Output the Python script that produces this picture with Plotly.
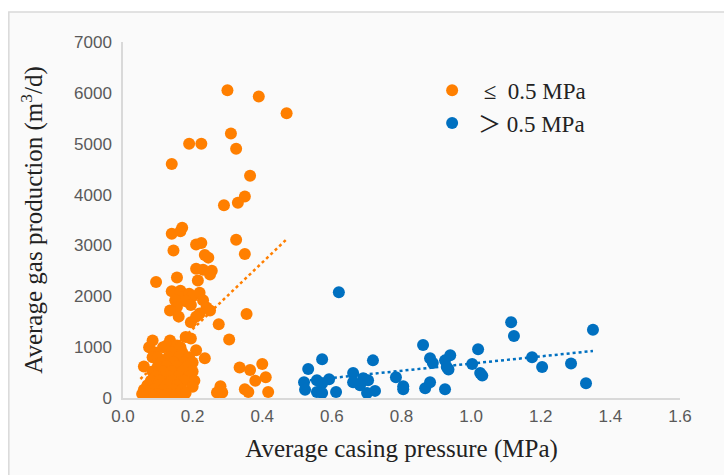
import plotly.graph_objects as go

# ---- data ----
low_x = [0.30, 0.39, 0.47, 0.31, 0.19, 0.225, 0.325, 0.14, 0.365, 0.35, 0.33, 0.29,
         0.14, 0.17, 0.165, 0.325, 0.35, 0.21, 0.225, 0.145, 0.235, 0.245, 0.21, 0.23,
         0.255, 0.25, 0.095, 0.155, 0.215, 0.14, 0.165, 0.17, 0.19, 0.20, 0.22, 0.18,
         0.15, 0.155, 0.195, 0.23, 0.24, 0.135, 0.16, 0.22, 0.25, 0.195, 0.21, 0.275,
         0.305, 0.355, 0.235, 0.335, 0.365, 0.40, 0.41, 0.38, 0.417, 0.28, 0.285, 0.27,
         0.35, 0.36,
         0.085, 0.135, 0.18, 0.195,
         0.075, 0.115, 0.125, 0.155, 0.165,
         0.09, 0.14, 0.17, 0.21,
         0.085, 0.10, 0.13, 0.16, 0.19,
         0.11, 0.145, 0.175, 0.20,
         0.06, 0.10, 0.125, 0.155, 0.185,
         0.085, 0.115, 0.14, 0.17, 0.20,
         0.095, 0.13, 0.16, 0.19,
         0.08, 0.105, 0.14, 0.175, 0.205,
         0.07, 0.10, 0.125, 0.155, 0.20,
         0.06, 0.09, 0.115, 0.145, 0.17,
         0.055, 0.075, 0.10, 0.13, 0.16, 0.18,
         0.065, 0.09, 0.12, 0.15]
low_y = [6050, 5930, 5600, 5200, 5000, 5000, 4900, 4600, 4370, 3960, 3840, 3790,
         3230, 3350, 3280, 3110, 2830, 3020, 3050, 2900, 2810, 2760, 2540, 2520,
         2500, 2430, 2280, 2370, 2310, 2100, 2110, 1980, 2050, 2000, 2070, 1900,
         1920, 1790, 1830, 1920, 1780, 1720, 1600, 1660, 1720, 1490, 1600, 1450,
         1150, 1650, 780, 600, 550, 670, 410, 340, 120, 230, 110, 110,
         170, 120,
         1130, 1130, 1200, 1170,
         1000, 1000, 1030, 1030, 1000,
         900, 900, 900, 940,
         800, 800, 800, 800, 800,
         700, 700, 700, 700,
         620, 620, 620, 620, 620,
         520, 520, 520, 520, 520,
         430, 430, 430, 430,
         340, 340, 340, 340, 340,
         250, 250, 250, 250, 220,
         160, 160, 160, 160, 160,
         80, 80, 80, 80, 80, 100,
         30, 30, 30, 30]

high_x = [0.62, 1.115, 1.123, 1.35, 0.862, 1.02, 0.572, 0.718, 0.532, 0.882, 0.89,
          0.94, 0.925, 0.93, 0.935, 1.003, 1.032, 1.175, 1.204, 1.287, 1.33, 0.661,
          0.661, 0.69, 0.704, 0.592, 0.572, 0.52, 0.523, 0.557, 0.572, 0.612, 0.681,
          0.701, 0.724, 0.784, 0.805, 0.805, 0.868, 0.882, 0.925, 1.026, 0.557]
high_y = [2080, 1490, 1220, 1340, 1040, 960, 760, 740, 570, 780, 690,
          840, 740, 610, 560, 670, 440, 800, 610, 680, 290, 490,
          310, 390, 350, 370, 290, 310, 160, 120, 100, 120, 250,
          100, 140, 410, 230, 170, 190, 310, 170, 490, 350]

# trendlines: slope, intercept, x-extent
low_trend = {"slope": 6543, "intercept": 46, "x": [0.05, 0.47]}
high_trend = {"slope": 707, "intercept": -30, "x": [0.52, 1.35]}

x_ticks = [0.0, 0.2, 0.4, 0.6, 0.8, 1.0, 1.2, 1.4, 1.6]
y_ticks = [0, 1000, 2000, 3000, 4000, 5000, 6000, 7000]

low_label = "\u00a0\u00a0≤\u00a0\u00a00.5 MPa"
high_label = "\u00a0＞\u00a00.5 MPa"

ORANGE = "#FF7F00"
BLUE = "#0070C0"

fig = go.Figure()

for tr, col in ((low_trend, ORANGE), (high_trend, BLUE)):
    xs = tr["x"]
    ys = [tr["slope"] * v + tr["intercept"] for v in xs]
    fig.add_trace(go.Scatter(x=xs, y=ys, mode="lines", showlegend=False,
                             line=dict(color=col, width=2.5, dash="dot"),
                             hoverinfo="skip"))

fig.add_trace(go.Scatter(x=low_x, y=low_y, mode="markers", name=low_label,
                         marker=dict(color=ORANGE, size=12, line=dict(width=0))))
fig.add_trace(go.Scatter(x=high_x, y=high_y, mode="markers", name=high_label,
                         marker=dict(color=BLUE, size=12, line=dict(width=0))))

tickfont = dict(family="Liberation Sans, Arial, sans-serif", size=17, color="#595959")
serif = "Liberation Serif, Times New Roman, Noto Sans CJK SC, serif"

fig.update_layout(
    width=724, height=475,
    margin=dict(l=123, r=44, t=42, b=77),
    paper_bgcolor="white",
    plot_bgcolor="#fafafa",
    showlegend=True,
    legend=dict(x=0.555, y=0.925, xanchor="left", yanchor="top",
                bgcolor="rgba(0,0,0,0)", font=dict(family=serif, size=23, color="#222222"),
                itemsizing="constant", tracegroupgap=0),
    shapes=[dict(type="rect", xref="paper", yref="paper",
                 x0=-0.205, x1=1.1, y0=-0.3, y1=1.084,
                 fillcolor="#fafafa", line=dict(color="#d9d9d9", width=1.5),
                 layer="below")],
    xaxis=dict(range=[0, 1.6], tickvals=x_ticks, ticktext=[f"{v:.1f}" for v in x_ticks],
               showgrid=False, zeroline=False, showline=True, linecolor="#d9d9d9",
               linewidth=1.5, ticks="outside", ticklen=2, tickcolor="rgba(0,0,0,0)",
               tickfont=tickfont,
               title=dict(text="Average casing pressure (MPa)",
                          font=dict(family=serif, size=25, color="#222222"), standoff=14)),
    yaxis=dict(range=[0, 7000], tickvals=y_ticks, ticktext=[str(v) for v in y_ticks],
               showgrid=False, zeroline=False, showline=True, linecolor="#d9d9d9",
               linewidth=1.5, ticks="outside", ticklen=6, tickcolor="rgba(0,0,0,0)",
               tickfont=tickfont,
               title=dict(text="Average gas production (m<sup>3</sup>/d)",
                          font=dict(family=serif, size=25, color="#222222"), standoff=24)),
)

fig.write_html("out.html")
